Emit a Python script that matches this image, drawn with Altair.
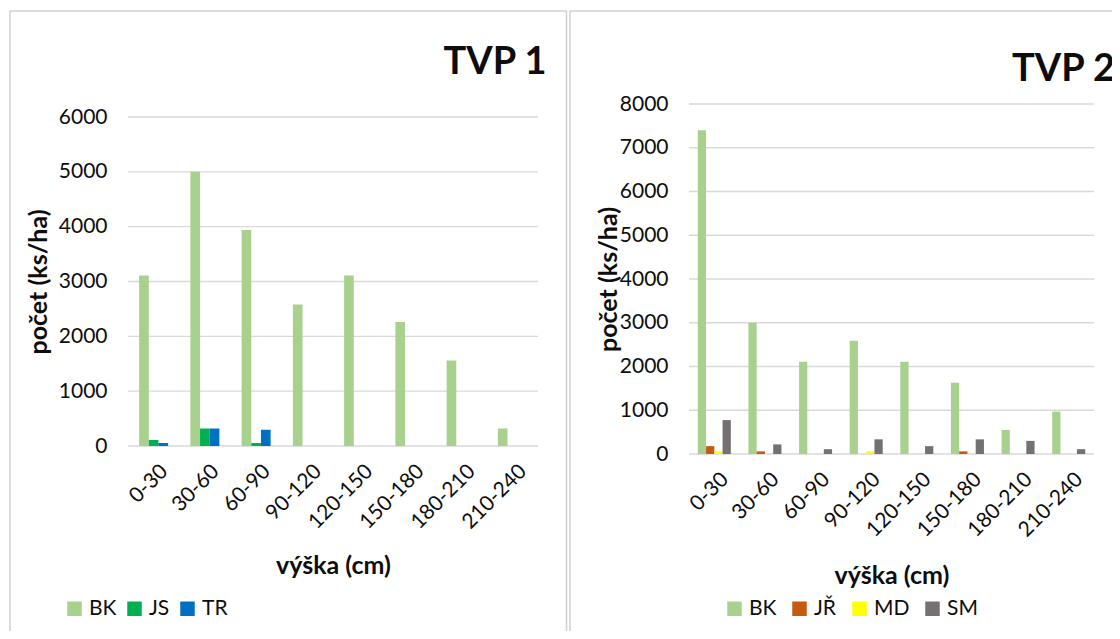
import altair as alt
import pandas as pd

# ---------------- data ----------------
categories = ["0-30", "30-60", "60-90", "90-120", "120-150", "150-180", "180-210", "210-240"]

left_series = ["BK", "JS", "TR"]
left_bk = [3110, 5000, 3940, 2580, 3110, 2260, 1560, 320]
left_js = [110, 320, 55, 0, 0, 0, 0, 0]
left_tr = [55, 320, 295, 0, 0, 0, 0, 0]
left_colors = ["#A9D18E", "#00B050", "#0070C0"]
left_ticks = [0, 1000, 2000, 3000, 4000, 5000, 6000]

right_series = ["BK", "JŘ", "MD", "SM"]
right_bk = [7400, 3000, 2110, 2590, 2110, 1630, 550, 970]
right_jr = [180, 60, 0, 0, 0, 60, 0, 0]
right_md = [60, 0, 0, 60, 0, 0, 0, 0]
right_sm = [775, 220, 110, 335, 180, 335, 300, 110]
right_colors = ["#A9D18E", "#C55A11", "#FFFF00", "#767171"]
right_ticks = [0, 1000, 2000, 3000, 4000, 5000, 6000, 7000, 8000]

panel_titles = ["TVP 1", "TVP 2"]
x_title = "výška (cm)"
y_title = "počet (ks/ha)"

FONT = "Lato"
TXT = "#0d0d0d"
GRID = "#D9D9D9"
W, H = 1104, 623


def long_df(series, cols):
    rows = []
    for s, vals in zip(series, cols):
        for c, v in zip(categories, vals):
            rows.append({"cat": c, "series": s, "val": v})
    return pd.DataFrame(rows)


left_df = long_df(left_series, [left_bk, left_js, left_tr])
right_df = long_df(right_series, [right_bk, right_jr, right_md, right_sm])


def panel(df, series, colors, ticks, ymax, x0, x1, y0, y1, pad_in,
          y_title_x, x_title_y, legend_x, legend_y, col_pad):
    yscale = alt.Scale(domain=[0, ymax], range=[y0, y1], nice=False, zero=True)
    grid = alt.Chart(pd.DataFrame({"v": ticks})).mark_rule(
        color=GRID, strokeWidth=1.4
    ).encode(
        y=alt.Y("v:Q", scale=yscale, axis=None),
        x=alt.value(x0),
        x2=alt.value(x1),
    )
    bars = alt.Chart(df).mark_bar().encode(
        x=alt.X(
            "cat:N",
            sort=categories,
            scale=alt.Scale(domain=categories, range=[x0, x1],
                            paddingInner=pad_in, paddingOuter=pad_in / 2),
            axis=alt.Axis(
                orient="bottom", offset=-(H - y0), domain=False, ticks=False,
                tickSize=0, grid=False, labelAngle=-45, labelAlign="right",
                labelBaseline="middle", labelPadding=22, labelOffset=11,
                labelFontSize=21, labelColor=TXT, labelOverlap=False,
                title=x_title, titleFontSize=25, titleFontWeight="bold",
                titleColor=TXT, titleY=x_title_y, titleBaseline="middle",
            ),
        ),
        xOffset=alt.XOffset(
            "series:N", sort=series,
            scale=alt.Scale(domain=series, paddingInner=0, paddingOuter=0),
        ),
        y=alt.Y(
            "val:Q",
            scale=yscale,
            axis=alt.Axis(
                orient="left", offset=-x0, values=ticks, domain=False,
                ticks=False, tickSize=0, grid=False, labelPadding=21,
                labelFontSize=21, labelColor=TXT, labelOverlap=False,
                format="d",
                title=y_title, titleFontSize=25, titleFontWeight="bold",
                titleColor=TXT, titleX=y_title_x, titleBaseline="middle",
            ),
        ),
        color=alt.Color(
            "series:N",
            sort=series,
            scale=alt.Scale(domain=series, range=colors),
            legend=alt.Legend(
                orient="none", legendX=legend_x, legendY=legend_y,
                direction="horizontal", title=None, symbolType="square",
                symbolSize=210, symbolStrokeWidth=0, labelFontSize=21,
                labelColor=TXT, labelOffset=4, columnPadding=col_pad,
                padding=0,
            ),
        ),
    )
    return grid, bars


lg, lb = panel(left_df, left_series, left_colors, left_ticks, 6000,
               120, 530, 438, 109, 0.434, -90, 119, 56, 590, 7)
rg, rb = panel(right_df, right_series, right_colors, right_ticks, 8000,
               681, 1086, 446, 96, 0.348, -81, 121, 716, 590, 12)

one = pd.DataFrame({"k": [0]})


def rule(x, y, x2=None, y2=None):
    enc = {"x": alt.value(x), "y": alt.value(y)}
    if x2 is not None:
        enc["x2"] = alt.value(x2)
    if y2 is not None:
        enc["y2"] = alt.value(y2)
    return alt.Chart(one).mark_rule(color="#D0D0D0", strokeWidth=1.5).encode(**enc)


frames = [
    rule(2, 3, y2=H + 20),
    rule(2, 3, x2=558.5),
    rule(558.5, 3, y2=H + 20),
    rule(562, 3, y2=H + 20),
    rule(562, 3, x2=W + 20),
]

t1 = alt.Chart(pd.DataFrame({"t": [panel_titles[0]]})).mark_text(
    align="center", baseline="middle", fontSize=38, fontWeight="bold",
    font=FONT, color=TXT
).encode(text="t:N", x=alt.value(487), y=alt.value(55))
t2 = alt.Chart(pd.DataFrame({"t": [panel_titles[1]]})).mark_text(
    align="left", baseline="middle", fontSize=38, fontWeight="bold",
    font=FONT, color=TXT
).encode(text="t:N", x=alt.value(1004), y=alt.value(62))

chart = alt.layer(lg, lb, rg, rb, t1, t2, *frames).resolve_scale(
    x="independent", y="independent", xOffset="independent", color="independent"
).resolve_axis(
    x="independent", y="independent"
).resolve_legend(
    color="independent"
).properties(
    width=W, height=H, padding=0, autosize=alt.AutoSizeParams(type="none"),
    background="white",
).configure(
    font=FONT
).configure_view(
    strokeWidth=0
)

chart.save("out.html", embed_options={"renderer": "svg", "actions": False})
